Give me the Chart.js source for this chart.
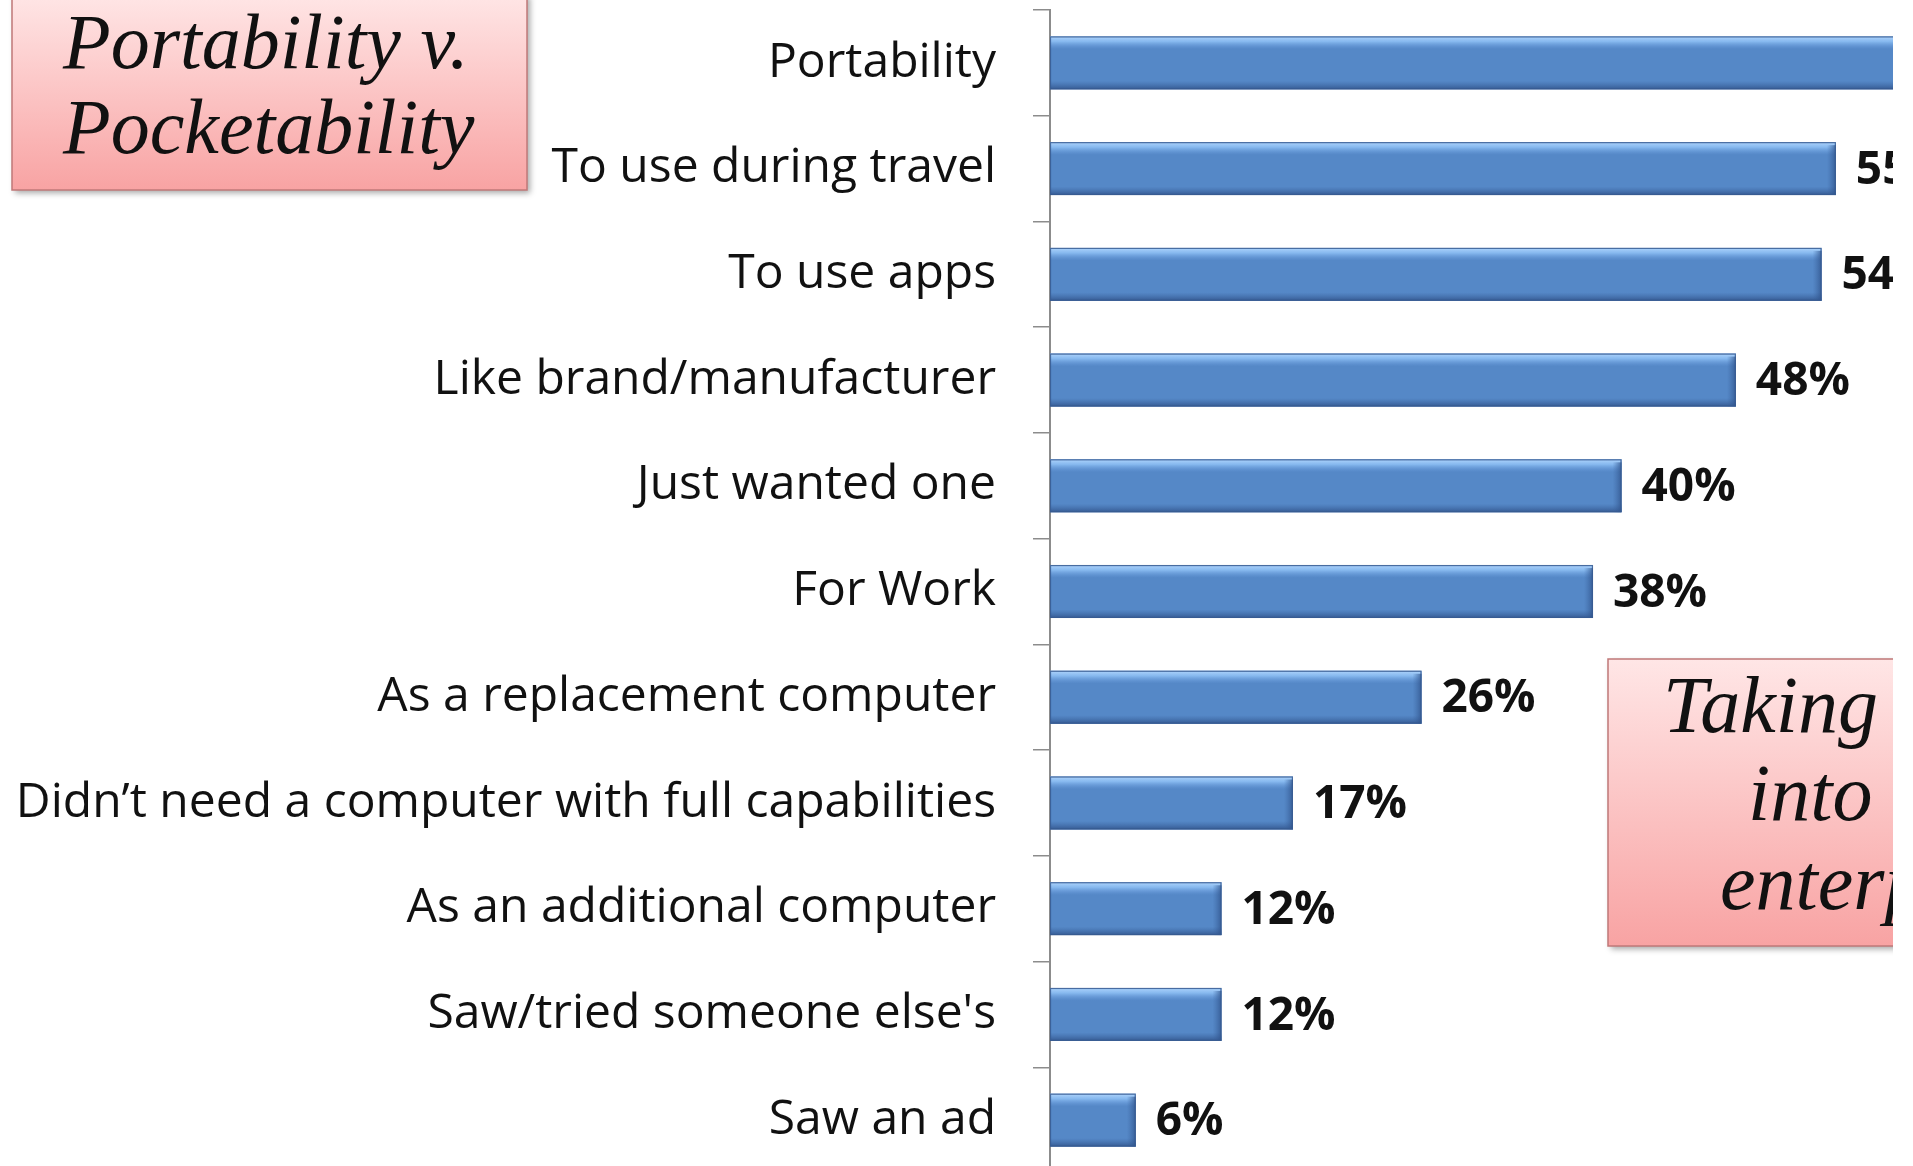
<!DOCTYPE html>
<html>
<head>
<meta charset="utf-8">
<script src="https://cdn.jsdelivr.net/npm/chart.js@4.4.1/dist/chart.umd.min.js"></script>
<style>
  html, body { margin: 0; padding: 0; background: #fff; overflow: hidden; width: 1913px; height: 1166px; }
  #wrap { position: absolute; left: 0; top: 0; width: 1893px; height: 1175px; }
</style>
</head>
<body>
<div id="wrap"><canvas id="c" width="1893" height="1175"></canvas></div>
<script>
// Reasons for buying, share of respondents (%)
const categories = [
  'Portability',
  'To use during travel',
  'To use apps',
  'Like brand/manufacturer',
  'Just wanted one',
  'For Work',
  'As a replacement computer',
  'Didn\u2019t need a computer with full capabilities',
  'As an additional computer',
  'Saw/tried someone else\'s',
  'Saw an ad'
];
const percentValues = [65, 55, 54, 48, 40, 38, 26, 17, 12, 12, 6];
const valueLabels = percentValues.map(v => v + '%');
const titleLines = ['Portability v.', 'Pocketability'];
const noteLines = ['Taking it', 'into the', 'enterprise'];

const AXIS_GREY = '#8c8c8c';
const BAR_BLUE = '#5588c7';

// Glossy bevel on top of each bar: light top edge, dark bottom edge, shaded end cap
const bevelPlugin = {
  id: 'bevel',
  afterDatasetsDraw(chart) {
    const ctx = chart.ctx;
    const area = chart.chartArea;
    const meta = chart.getDatasetMeta(0);
    ctx.save();
    ctx.beginPath();
    ctx.rect(area.left, area.top, area.right - area.left, area.bottom - area.top);
    ctx.clip();
    meta.data.forEach(el => {
      const p = el.getProps(['x', 'y', 'base', 'height'], true);
      const left = Math.min(p.base, p.x), right = Math.max(p.base, p.x);
      const top = p.y - p.height / 2, bottom = p.y + p.height / 2;
      const w = right - left, h = p.height;

      let g = ctx.createLinearGradient(0, top, 0, top + h * 0.24);
      g.addColorStop(0, 'rgba(175,212,252,1)');
      g.addColorStop(0.4, 'rgba(140,190,243,0.9)');
      g.addColorStop(1, 'rgba(110,160,225,0)');
      ctx.fillStyle = g;
      ctx.fillRect(left, top, w, h * 0.24);

      g = ctx.createLinearGradient(0, bottom - h * 0.16, 0, bottom);
      g.addColorStop(0, 'rgba(60,100,160,0)');
      g.addColorStop(1, 'rgba(50,85,140,0.9)');
      ctx.fillStyle = g;
      ctx.fillRect(left, bottom - h * 0.16, w, h * 0.16);

      g = ctx.createLinearGradient(right - 9, 0, right, 0);
      g.addColorStop(0, 'rgba(60,100,160,0)');
      g.addColorStop(1, 'rgba(45,80,135,0.75)');
      ctx.fillStyle = g;
      ctx.fillRect(right - 9, top + 3, 9, h - 3);

      ctx.strokeStyle = 'rgba(55,90,145,0.85)';
      ctx.lineWidth = 1.2;
      ctx.strokeRect(left + 0.5, top + 0.5, w - 1, h - 1);
    });
    ctx.restore();

    // value labels to the right of each bar
    ctx.save();
    ctx.font = 'bold 46px "Open Sans"';
    ctx.fillStyle = '#111';
    ctx.textAlign = 'left';
    ctx.textBaseline = 'middle';
    meta.data.forEach((el, i) => {
      const p = el.getProps(['x', 'y'], true);
      ctx.fillText(valueLabels[i], p.x + 20, p.y + 2);
    });
    ctx.restore();
  }
};

// Pink note boxes with handwritten-style captions
function noteBox(ctx, x, y, w, h, lines, font, textX, baselines) {
  ctx.save();
  ctx.shadowColor = 'rgba(0,0,0,0.35)';
  ctx.shadowBlur = 6;
  ctx.shadowOffsetX = 3;
  ctx.shadowOffsetY = 3;
  const g = ctx.createLinearGradient(0, y, 0, y + h);
  g.addColorStop(0, '#ffe6e6');
  g.addColorStop(1, '#f8a3a3');
  ctx.fillStyle = g;
  ctx.fillRect(x, y, w, h);
  ctx.shadowColor = 'transparent';
  ctx.strokeStyle = '#c07878';
  ctx.lineWidth = 1.5;
  ctx.strokeRect(x, y, w, h);
  ctx.fillStyle = '#111';
  ctx.font = font;
  ctx.textAlign = 'left';
  ctx.textBaseline = 'alphabetic';
  lines.forEach((t, i) => ctx.fillText(t, textX[i], baselines[i]));
  ctx.restore();
}

const notesPlugin = {
  id: 'notes',
  afterDraw(chart) {
    const ctx = chart.ctx;
    noteBox(ctx, 12, -6, 515, 196, titleLines, 'italic 78px "Liberation Serif"', [63, 63], [68, 153]);
    noteBox(ctx, 1608, 659, 420, 287, noteLines, 'italic 80px "Liberation Serif"', [1663, 1748, 1720], [732, 820, 909]);
  }
};

new Chart(document.getElementById('c'), {
  type: 'bar',
  data: {
    labels: categories,
    datasets: [{
      data: percentValues,
      backgroundColor: BAR_BLUE,
      borderWidth: 0,
      categoryPercentage: 1,
      barPercentage: 0.5
    }]
  },
  options: {
    indexAxis: 'y',
    responsive: false,
    devicePixelRatio: 1,
    animation: false,
    layout: { padding: { top: 10, bottom: 2, left: 0, right: 0 } },
    plugins: { legend: { display: false }, tooltip: { enabled: false } },
    scales: {
      x: { display: false, min: 0, max: 59 },
      y: {
        afterFit(scale) {
          scale.width = 1050;
          scale.paddingTop = 0;
          scale.paddingBottom = 0;
        },
        grid: { drawOnChartArea: false, tickLength: 17, color: AXIS_GREY, lineWidth: 1.5 },
        border: { color: AXIS_GREY, width: 2 },
        ticks: { font: { family: 'Open Sans', size: 48 }, color: '#111', padding: 37 }
      }
    }
  },
  plugins: [bevelPlugin, notesPlugin]
});
</script>
</body>
</html>
